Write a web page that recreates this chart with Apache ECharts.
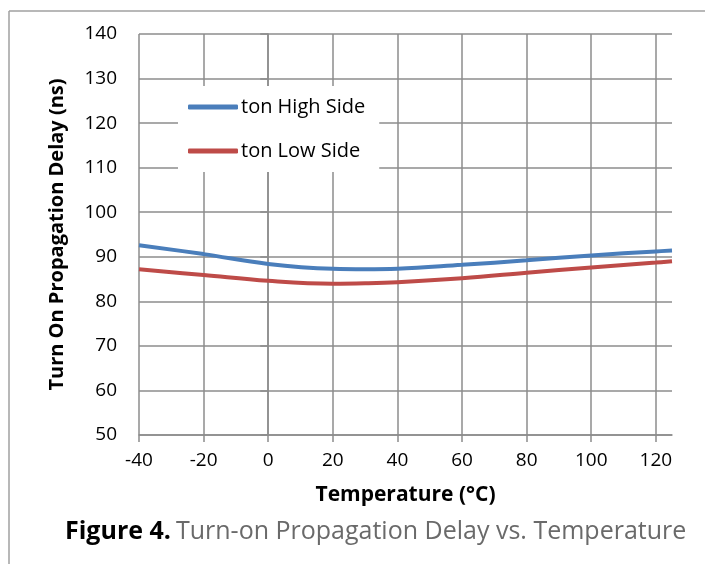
<!DOCTYPE html>
<html>
<head>
<meta charset="utf-8">
<script src="https://cdn.jsdelivr.net/npm/echarts@6/dist/echarts.min.js"></script>
<style>
html,body{margin:0;padding:0;background:#fff;}
#c{width:705px;height:564px;}
</style>
</head>
<body>
<div id="c"></div>
<script>
var temps = [-40, -20, 0, 20, 30, 40, 60, 80, 100, 120, 125];
var highSide = [92.6, 90.6, 88.4, 87.3, 87.2, 87.3, 88.2, 89.2, 90.3, 91.2, 91.4];
var lowSide = [87.2, 85.9, 84.6, 83.95, 84.05, 84.3, 85.2, 86.4, 87.6, 88.7, 89.0];
var xTicks = [-40, -20, 0, 20, 40, 60, 80, 100, 120];
var seriesNames = ['ton High Side', 'ton Low Side'];

function pairs(xs, ys) { return xs.map(function (x, i) { return [x, ys[i]]; }); }

var FONT = 'Open Sans';
var grid = '#8c8c8c';
var chart = echarts.init(document.getElementById('c'), null, {renderer: 'canvas'});
chart.setOption({
  animation: false,
  backgroundColor: '#fff',
  graphic: [
    {type: 'line', shape: {x1: 9, y1: 11, x2: 705, y2: 11}, style: {stroke: '#a0a0a0', lineWidth: 1.5}},
    {type: 'line', shape: {x1: 9, y1: 11, x2: 9, y2: 564}, style: {stroke: '#a0a0a0', lineWidth: 1.5}}
  ],
  title: {
    text: '{b|Figure 4.} {g|Turn-on Propagation Delay vs. Temperature}',
    left: 60, top: 514,
    textStyle: {
      fontWeight: 'normal',
      rich: {
        b: {fontFamily: FONT, fontWeight: 'bold', fontSize: 25, color: '#000'},
        g: {fontFamily: FONT, fontWeight: 'normal', fontSize: 25, color: '#6a6a6a'}
      }
    }
  },
  grid: {left: 139, right: 33, top: 34, bottom: 129, containLabel: false},
  legend: {
    orient: 'vertical',
    left: 178, top: 86,
    backgroundColor: '#fff',
    padding: [11, 14, 11, 10],
    itemGap: 24,
    itemWidth: 50, itemHeight: 5,
    icon: 'roundRect',
    textStyle: {fontFamily: FONT, fontSize: 20, color: '#000', padding: [0, 0, 0, -2]},
    data: seriesNames
  },
  xAxis: {
    type: 'value', min: -40, max: 125, interval: 20,
    name: 'Temperature (°C)', nameLocation: 'middle', nameGap: 50,
    nameTextStyle: {fontFamily: FONT, fontWeight: 'bold', fontSize: 21, color: '#000'},
    axisLine: {show: true, lineStyle: {color: grid, width: 1.5}},
    axisTick: {show: true, length: 7, lineStyle: {color: grid, width: 1.5}, customValues: xTicks},
    axisLabel: {fontFamily: FONT, fontSize: 19, color: '#000', margin: 16, customValues: xTicks},
    splitLine: {show: true, lineStyle: {color: grid, width: 1.5}}
  },
  yAxis: {
    type: 'value', min: 50, max: 140, interval: 10,
    name: 'Turn On Propagation Delay (ns)', nameLocation: 'middle', nameGap: 72, nameRotate: 90,
    nameTextStyle: {fontFamily: FONT, fontWeight: 'bold', fontSize: 20, color: '#000'},
    axisLine: {show: true, lineStyle: {color: grid, width: 1.5}},
    axisTick: {show: true, length: 8, lineStyle: {color: grid, width: 1.5}},
    axisLabel: {fontFamily: FONT, fontSize: 19, color: '#000', margin: 22},
    splitLine: {show: true, lineStyle: {color: grid, width: 1.5}}
  },
  series: [
    {name: seriesNames[0], type: 'line', data: pairs(temps, highSide), smooth: 0.4, showSymbol: false,
     lineStyle: {color: '#4a7ebb', width: 4}, itemStyle: {color: '#4a7ebb'}, z: 3},
    {name: seriesNames[1], type: 'line', data: pairs(temps, lowSide), smooth: 0.4, showSymbol: false,
     lineStyle: {color: '#be4b48', width: 4}, itemStyle: {color: '#be4b48'}, z: 2}
  ]
});
</script>
</body>
</html>
